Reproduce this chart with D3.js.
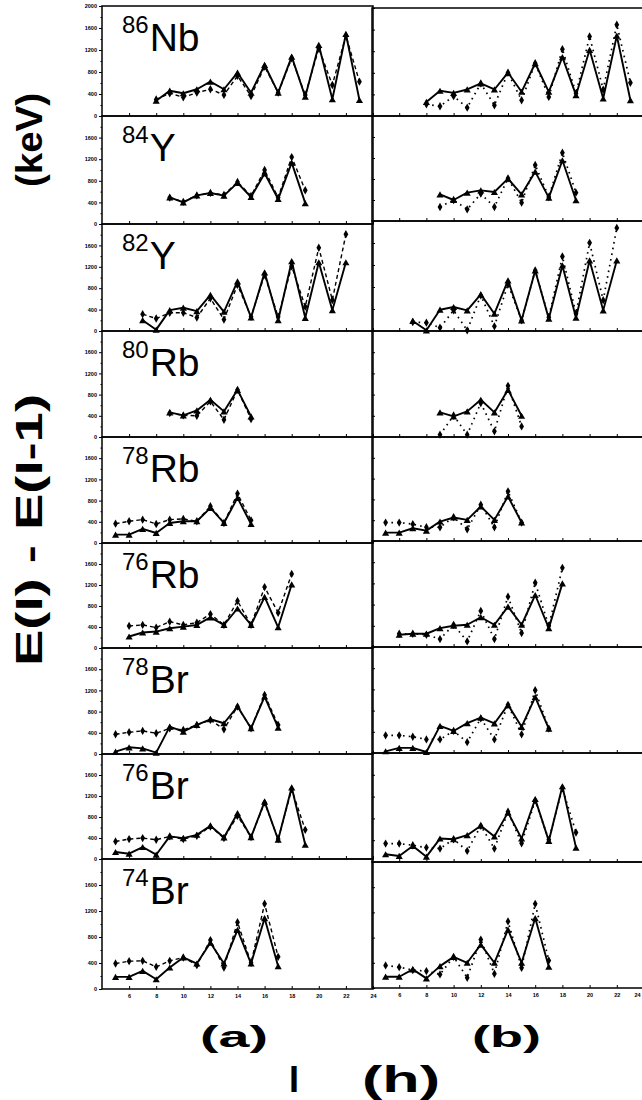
<!DOCTYPE html>
<html>
<head>
<meta charset="utf-8">
<title></title>
<style>
 body { margin: 0; background: #fff; }
 svg { display: block; font-family: "Liberation Sans", Arial, sans-serif; }
 .frame { fill: none; stroke: #000; stroke-width: 1.5px; }
 .axis path { display: none; }
 .axis line { stroke: #000; stroke-width: 1px; }
 .axis text { font-size: 5.5px; font-weight: bold; fill: #000; }
 .solid { fill: none; stroke: #000; stroke-width: 1.9px; stroke-linejoin: round; }
 .dashA { fill: none; stroke: #000; stroke-width: 1.4px; stroke-dasharray: 4,3; }
 .dotB { fill: none; stroke: #000; stroke-width: 1.7px; stroke-dasharray: 1.6,4.2; }
</style>
</head>
<body>
<svg width="642" height="1100"></svg>

<script src="https://cdn.jsdelivr.net/npm/d3@7"></script>
<script>

 // tick labels
 var xTickVals = [6, 8, 10, 12, 14, 16, 18, 20, 22, 24];
 var yTickVals = [0, 400, 800, 1200, 1600];
 var yTickValsTop = [0, 400, 800, 1200, 1600, 2000];

 // nuclei, top to bottom
 var massNumbers = ['86', '84', '82', '80', '78', '76', '78', '76', '74'];
 var elements = ['Nb', 'Y', 'Y', 'Rb', 'Rb', 'Rb', 'Br', 'Br', 'Br'];

 // E(I) - E(I-1) in keV; a = left column, b = right column
 var spins_86Nb  = [8, 9, 10, 11, 12, 13, 14, 15, 16, 17, 18, 19, 20, 21, 22, 23];
 var aSolid_86Nb = [278, 460, 413, 486, 624, 486, 788, 424, 928, 424, 1080, 351, 1292, 304, 1492, 291];
 var aDash_86Nb  = [300, 413, 340, 424, 486, 383, 728, 364, 900, 424, 1050, 383, 1229, 564, 1460, 624];
 var bSolid_86Nb = [261, 467, 429, 491, 603, 491, 802, 448, 977, 448, 1089, 386, 1225, 323, 1487, 292];
 var bDot_86Nb   = [218, 180, 367, 155, 603, 199, 802, 292, 977, 354, 1238, 420, 1474, 490, 1692, 616];

 var spins_84Y  = [9, 10, 11, 12, 13, 14, 15, 16, 17, 18, 19];
 var aSolid_84Y = [494, 400, 531, 575, 525, 762, 500, 937, 462, 1137, 387];
 var aDash_84Y  = [490, 410, 530, 575, 540, 780, 520, 1000, 490, 1240, 625];
 var bSolid_84Y = [508, 400, 540, 584, 552, 806, 508, 940, 445, 1156, 394];
 var bDot_84Y   = [267, 400, 222, 520, 267, 813, 350, 1067, 457, 1300, 540];

 var spins_82Y  = [7, 8, 9, 10, 11, 12, 13, 14, 15, 16, 17, 18, 19, 20, 21, 22];
 var aSolid_82Y = [202, 25, 390, 435, 372, 674, 359, 926, 252, 1096, 202, 1304, 246, 1285, 390, 1285];
 var aDash_82Y  = [315, 233, 340, 340, 252, 611, 214, 863, 265, 1052, 265, 1210, 454, 1556, 580, 1808];
 var bSolid_82Y = [182, 12, 387, 436, 375, 666, 315, 920, 194, 1101, 224, 1192, 242, 1283, 375, 1283];
 var bDot_82Y   = [163, 151, 60, 375, 12, 647, 85, 850, 194, 1101, 250, 1355, 320, 1603, 560, 1875];

 var spins_80Rb  = [9, 10, 11, 12, 13, 14, 15];
 var aSolid_80Rb = [464, 408, 502, 702, 483, 890, 389];
 var aDash_80Rb  = [451, 408, 401, 671, 326, 890, 339];
 var bSolid_80Rb = [464, 389, 483, 702, 464, 890, 401];
 var bDot_80Rb   = [44, 405, 44, 640, 107, 966, 200];

 var spins_78Rb  = [5, 6, 7, 8, 9, 10, 11, 12, 13, 14, 15];
 var aSolid_78Rb = [158, 158, 265, 189, 378, 410, 410, 662, 378, 851, 359];
 var aDash_78Rb  = [365, 410, 441, 359, 441, 454, 410, 693, 378, 932, 428];
 var bSolid_78Rb = [161, 161, 245, 200, 374, 452, 406, 664, 406, 858, 355];
 var bDot_78Rb   = [355, 355, 323, 264, 264, 458, 226, 697, 264, 955, 355];

 var spins_76Rb  = [6, 7, 8, 9, 10, 11, 12, 13, 14, 15, 16, 17, 18];
 var aSolid_76Rb = [219, 295, 313, 376, 408, 439, 583, 439, 752, 439, 972, 395, 1210];
 var aDash_76Rb  = [420, 439, 389, 502, 439, 483, 646, 439, 897, 439, 1160, 671, 1411];
 var bSolid_76Rb = [231, 250, 250, 356, 400, 419, 562, 419, 762, 419, 981, 356, 1200];
 var bDot_76Rb   = [250, 250, 231, 150, 419, 106, 681, 150, 950, 262, 1212, 400, 1494];

 var spins_78Br  = [5, 6, 7, 8, 9, 10, 11, 12, 13, 14, 15, 16, 17];
 var aSolid_78Br = [44, 126, 107, 25, 517, 422, 548, 655, 580, 895, 485, 1084, 498];
 var aDash_78Br  = [372, 410, 435, 391, 485, 454, 548, 643, 466, 895, 485, 1115, 548];
 var bSolid_78Br = [32, 96, 96, 19, 512, 416, 563, 666, 557, 909, 493, 1056, 461];
 var bDot_78Br   = [333, 333, 307, 256, 256, 416, 205, 653, 256, 909, 352, 1184, 461];

 var spins_76Br  = [5, 6, 7, 8, 9, 10, 11, 12, 13, 14, 15, 16, 17, 18, 19];
 var aSolid_76Br = [133, 101, 228, 82, 430, 398, 461, 632, 411, 872, 417, 1093, 367, 1365, 272];
 var aDash_76Br  = [335, 379, 398, 367, 430, 379, 442, 619, 398, 822, 417, 1074, 379, 1327, 556];
 var bSolid_76Br = [141, 111, 295, 98, 430, 418, 492, 664, 467, 910, 430, 1156, 387, 1390, 264];
 var bDot_76Br   = [338, 338, 307, 264, 246, 418, 203, 664, 246, 922, 344, 1125, 406, 1353, 541];

 var spins_74Br  = [5, 6, 7, 8, 9, 10, 11, 12, 13, 14, 15, 16, 17];
 var aSolid_74Br = [186, 186, 279, 150, 330, 485, 392, 712, 392, 908, 392, 1089, 351];
 var aDash_74Br  = [392, 428, 433, 341, 433, 485, 366, 753, 330, 1027, 402, 1311, 495];
 var bSolid_74Br = [179, 179, 295, 153, 347, 494, 400, 689, 400, 926, 400, 1110, 337];
 var bDot_74Br   = [358, 331, 284, 268, 216, 494, 163, 768, 226, 1057, 321, 1336, 437];

 var panels = [
     [spins_86Nb, aSolid_86Nb, aDash_86Nb, bSolid_86Nb, bDot_86Nb],
     [spins_84Y, aSolid_84Y, aDash_84Y, bSolid_84Y, bDot_84Y],
     [spins_82Y, aSolid_82Y, aDash_82Y, bSolid_82Y, bDot_82Y],
     [spins_80Rb, aSolid_80Rb, aDash_80Rb, bSolid_80Rb, bDot_80Rb],
     [spins_78Rb, aSolid_78Rb, aDash_78Rb, bSolid_78Rb, bDot_78Rb],
     [spins_76Rb, aSolid_76Rb, aDash_76Rb, bSolid_76Rb, bDot_76Rb],
     [spins_78Br, aSolid_78Br, aDash_78Br, bSolid_78Br, bDot_78Br],
     [spins_76Br, aSolid_76Br, aDash_76Br, bSolid_76Br, bDot_76Br],
     [spins_74Br, aSolid_74Br, aDash_74Br, bSolid_74Br, bDot_74Br]
 ];

 /*
  * layout: panel edges (y) for each column, x range of each column
  */
 var columns = [
     { x0: 102, x1: 373, edges: [6, 116, 224, 331, 437, 543, 648, 754, 859, 989], dash: 'dashA' },
     { x0: 372, x1: 644, edges: [8, 116, 221, 331, 437, 541, 647, 753, 862, 988], dash: 'dotB' }
 ];

 var svg = d3.select('svg');
 var triangle = d3.symbol().type(d3.symbolTriangle).size(22);
 var diamond = d3.symbol().type(d3.symbolDiamond).size(20);

 columns.forEach(function(col, c) {
     var x = d3.scaleLinear().domain([4, 24]).range([col.x0, col.x1]);
     var g = svg.append('g');

     panels.forEach(function(p, i) {
         var top = col.edges[i], bottom = col.edges[i + 1];
         var y = d3.scaleLinear().domain([0, 2000]).range([bottom, top]);
         var pg = g.append('g');

         pg.append('rect')
           .attr('class', 'frame')
           .attr('x', col.x0).attr('y', top)
           .attr('width', col.x1 - col.x0).attr('height', bottom - top);

         // y ticks
         if (c === 0) {
             pg.append('g')
               .attr('class', 'axis')
               .attr('transform', 'translate(' + col.x0 + ',0)')
               .call(d3.axisLeft(y).tickValues(i === 0 ? yTickValsTop : yTickVals)
                                   .tickSize(3).tickPadding(2).tickFormat(d3.format('d')));
             pg.append('g')
               .attr('class', 'axis')
               .attr('transform', 'translate(' + col.x0 + ',0)')
               .call(d3.axisLeft(y).tickValues([200, 600, 1000, 1400, 1800]).tickSize(1.5).tickFormat(''));
         } else {
             pg.append('g')
               .attr('class', 'axis')
               .attr('transform', 'translate(' + col.x0 + ',0)')
               .call(d3.axisRight(y).tickValues(yTickVals.concat([2000])).tickSize(3).tickFormat(''));
         }

         // x ticks on the bottom edge of each panel
         var xa = d3.axisBottom(x).tickValues(xTickVals).tickSizeInner(-3).tickSizeOuter(0).tickPadding(5);
         if (i < panels.length - 1) xa.tickFormat('');
         var xg = pg.append('g')
           .attr('class', 'axis')
           .attr('transform', 'translate(0,' + bottom + ')')
           .call(xa);
         // the last label of the right column sits at the window edge
         if (c === 1 && i === panels.length - 1) {
             xg.selectAll('text').filter(function(d) { return d === 24; })
               .attr('text-anchor', 'end').attr('dx', -4);
         }

         // series
         var spins = p[0];
         var solid = spins.map(function(s, k) { return { I: s, v: p[1 + 2 * c][k] }; });
         var other = spins.map(function(s, k) { return { I: s, v: p[2 + 2 * c][k] }; });
         var line = d3.line().x(function(d) { return x(d.I); }).y(function(d) { return y(d.v); });

         pg.append('path').datum(other).attr('class', col.dash).attr('d', line);
         pg.append('path').datum(solid).attr('class', 'solid').attr('d', line);

         pg.selectAll('.dia').data(other).enter()
           .append('path').attr('class', 'dia')
           .attr('d', diamond)
           .attr('transform', function(d) { return 'translate(' + x(d.I) + ',' + y(d.v) + ')'; });
         pg.selectAll('.tri').data(solid).enter()
           .append('path').attr('class', 'tri')
           .attr('d', triangle)
           .attr('transform', function(d) { return 'translate(' + x(d.I) + ',' + (y(d.v) + 1) + ')'; });

         // nucleus label, left column only
         if (c === 0) {
             var t = pg.append('text')
                       .attr('x', 122)
                       .attr('y', top + 45);
             t.append('tspan').attr('font-size', 24).attr('dy', -18).text(massNumbers[i]);
             t.append('tspan').attr('font-size', 39).attr('dy', 18).attr('dx', 1).text(elements[i]);
         }
     });
 });

 /*
  * axis titles
  */
 svg.append('text')
    .attr('transform', 'translate(42,530) rotate(-90)')
    .attr('text-anchor', 'middle')
    .attr('font-weight', 'bold')
    .attr('font-size', 37)
    .attr('textLength', 272)
    .attr('lengthAdjust', 'spacingAndGlyphs')
    .text('E(I) - E(I-1)');

 svg.append('text')
    .attr('transform', 'translate(42,140) rotate(-90)')
    .attr('text-anchor', 'middle')
    .attr('font-weight', 'bold')
    .attr('font-size', 37)
    .attr('textLength', 94)
    .attr('lengthAdjust', 'spacingAndGlyphs')
    .text('(keV)');

 svg.append('text')
    .attr('x', 200).attr('y', 1047)
    .attr('font-weight', 'bold').attr('font-size', 29)
    .attr('textLength', 68).attr('lengthAdjust', 'spacingAndGlyphs')
    .text('(a)');

 svg.append('text')
    .attr('x', 472).attr('y', 1047)
    .attr('font-weight', 'bold').attr('font-size', 29)
    .attr('textLength', 69).attr('lengthAdjust', 'spacingAndGlyphs')
    .text('(b)');

 svg.append('text')
    .attr('x', 289).attr('y', 1092)
    .attr('font-weight', 'bold').attr('font-size', 36)
    .text('I');

 svg.append('text')
    .attr('x', 362).attr('y', 1092)
    .attr('font-weight', 'bold').attr('font-size', 36)
    .attr('textLength', 78).attr('lengthAdjust', 'spacingAndGlyphs')
    .text('(h)');

</script>
</body>
</html>
